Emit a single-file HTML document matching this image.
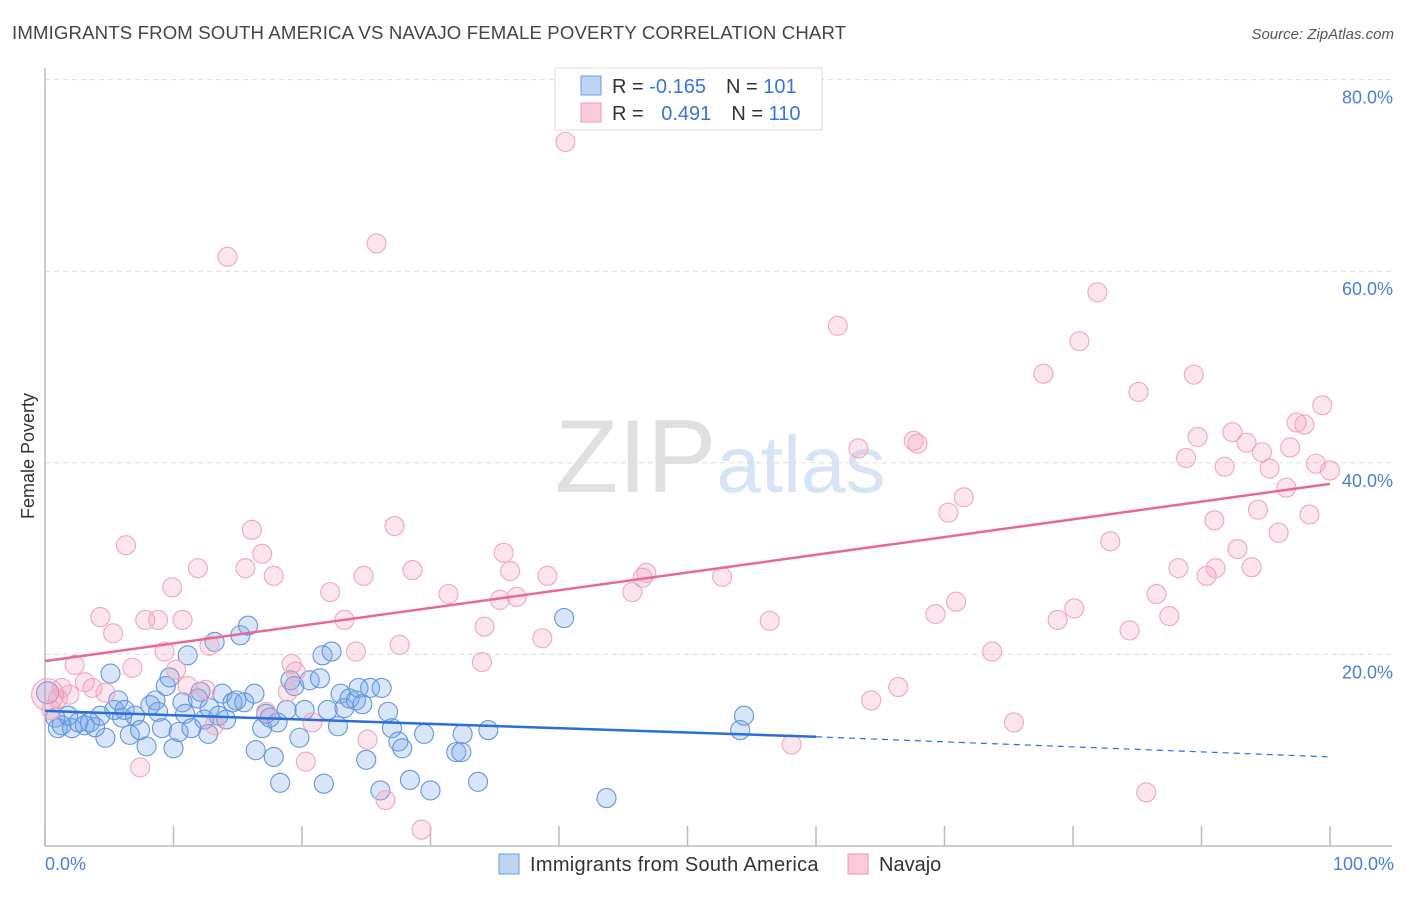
<!DOCTYPE html>
<html><head><meta charset="utf-8"><style>
body{margin:0;background:#fff;font-family:"Liberation Sans",sans-serif}
svg text{font-family:"Liberation Sans",sans-serif}
</style></head><body>
<svg id="chart" width="1406" height="892" xmlns="http://www.w3.org/2000/svg">
<text x="12" y="39" font-size="18.6" fill="#444" letter-spacing="0.15">IMMIGRANTS FROM SOUTH AMERICA VS NAVAJO FEMALE POVERTY CORRELATION CHART</text>
<text x="1394" y="39" font-size="15" fill="#555" text-anchor="end" font-style="italic">Source: ZipAtlas.com</text>
<text x="720" y="492" font-size="104" text-anchor="middle" fill="#ddd" font-family="Liberation Serif"><tspan fill="#e0e0e0">ZIP</tspan><tspan fill="#d6e4f5" font-family="Liberation Sans" font-size="80">atlas</tspan></text>
<g id="grid"></g>
<line x1="45" y1="68" x2="45" y2="846" stroke="#bbb" stroke-width="1.5"/>
<line x1="45" y1="846" x2="1392" y2="846" stroke="#bbb" stroke-width="1.5"/>
<text transform="translate(34,456) rotate(-90)" font-size="18" fill="#333" text-anchor="middle">Female Poverty</text>
<text x="45" y="870" font-size="18" fill="#4a7fd4">0.0%</text>
<text x="1394" y="870" font-size="18" fill="#4a7fd4" text-anchor="end">100.0%</text>
<g id="pts"></g>
<g id="trends"></g>
<g>
<rect x="555" y="68" width="267" height="62" fill="#fff" stroke="#ddd"/>
<rect x="581" y="76" width="20" height="19" fill="#bcd4f5" stroke="#6a9be0"/>
<rect x="581" y="103" width="20" height="19" fill="#fbcad8" stroke="#ee9ab4"/>
<text x="612" y="93" font-size="20" fill="#333">R = <tspan fill="#3a75d4">-0.165</tspan><tspan dx="20">N = </tspan><tspan fill="#3a75d4">101</tspan></text>
<text x="612" y="120" font-size="20" fill="#333">R = <tspan fill="#3a75d4" dx="12">0.491</tspan><tspan dx="20">N = </tspan><tspan fill="#3a75d4">110</tspan></text>
</g>
<g>
<rect x="499" y="854" width="20" height="20" fill="#bcd4f5" stroke="#6a9be0"/>
<text x="530" y="871" font-size="20" fill="#333" letter-spacing="0.3">Immigrants from South America</text>
<rect x="848" y="854" width="20" height="20" fill="#fbcad8" stroke="#ee9ab4"/>
<text x="879" y="871" font-size="20" fill="#333">Navajo</text>
</g>
</svg>
<script>
const yTicks=[20,40,60,80];
const yTickLabels=["20.0%","40.0%","60.0%","80.0%"];
const xTicks=[0,10,20,30,40,50,60,70,80,90,100];
const blueX=[0.2,0.8,1.0,1.3,1.8,2.1,2.6,3.1,3.5,3.9,4.3,4.7,5.1,5.4,5.7,6.0,6.2,6.6,7.0,7.4,7.9,8.2,8.6,8.8,9.1,9.4,9.7,10.0,10.4,10.7,10.9,11.1,11.4,11.9,12.1,12.4,12.7,12.8,13.2,13.5,13.8,14.1,14.6,14.9,15.2,15.5,15.8,16.3,16.4,16.9,17.2,17.5,17.8,18.1,18.3,18.8,19.1,19.4,19.8,20.2,20.6,21.4,21.6,21.7,22.0,22.3,22.8,23.0,23.3,23.7,24.2,24.4,24.7,25.0,25.3,26.1,26.2,26.7,27.0,27.5,27.8,28.4,29.5,30.0,32.0,32.5,32.4,33.7,34.5,40.4,43.7,54.1,54.4];
const blueY=[16.0,13.4,12.3,12.6,13.6,12.3,12.9,12.6,12.9,12.4,13.6,11.3,18.0,14.2,15.2,13.4,14.2,11.6,13.6,12.1,10.4,14.7,15.2,14.0,12.3,16.7,17.6,10.2,11.9,15.0,13.8,19.9,12.3,15.4,16.1,13.2,11.7,14.4,21.3,13.6,15.9,13.2,15.0,15.2,22.0,15.0,23.0,15.9,10.0,12.3,13.8,13.4,9.3,12.9,6.6,14.2,17.3,16.7,11.3,14.2,17.3,17.5,19.9,6.5,14.2,20.3,12.5,15.9,14.4,15.4,15.2,16.5,14.8,9.0,16.5,5.8,16.5,14.0,12.3,10.9,10.2,6.9,11.7,5.8,9.8,11.7,9.8,6.7,12.1,23.8,5.0,12.1,13.6];
const pinkX=[0.2,0.5,1.0,1.3,1.9,2.3,3.1,3.7,4.3,4.7,5.3,6.3,6.8,7.4,7.8,8.8,9.3,9.9,10.2,10.7,11.1,11.9,12.5,12.8,13.2,14.2,15.6,16.1,16.9,17.2,17.8,18.9,19.2,19.5,20.3,20.8,22.2,23.3,24.2,24.8,25.1,25.8,26.5,27.2,27.6,28.6,29.3,31.4,34.2,34.0,35.4,35.7,36.2,36.7,38.7,39.1,40.5,45.7,46.5,46.8,52.7,56.4,58.1,61.7,63.3,64.3,66.4,67.6,67.9,69.3,70.3,70.9,71.5,73.7,75.4,77.7,78.8,80.1,80.5,81.9,82.9,84.4,85.1,85.7,86.5,87.5,88.2,88.8,89.4,89.7,90.4,91.0,91.1,91.8,92.4,92.8,93.5,93.9,94.4,94.7,95.3,96.0,96.6,96.9,97.4,98.0,98.4,98.9,99.4,100];
const pinkY=[15.8,14.2,15.4,16.5,15.8,18.9,17.1,16.5,23.9,16.0,22.2,31.4,18.6,8.2,23.6,23.6,20.3,27.0,18.4,23.6,16.7,29.0,16.3,20.9,12.6,61.5,29.0,33.0,30.5,14.0,28.2,16.1,19.0,18.2,8.8,12.9,26.5,23.6,20.3,28.2,11.1,62.9,4.8,33.4,21.0,28.8,1.7,26.3,22.9,19.2,25.7,30.6,28.7,26.0,21.7,28.2,73.5,26.5,28.0,28.5,28.1,23.5,10.6,54.3,41.5,15.2,16.6,42.3,42.0,24.2,34.8,25.5,36.4,20.3,12.9,49.3,23.6,24.8,52.7,57.8,31.8,22.5,47.4,5.6,26.3,24.0,29.0,40.5,49.2,42.7,28.2,34.0,29.0,39.6,43.2,31.0,42.1,29.1,35.1,41.1,39.4,32.7,37.4,41.6,44.2,44.0,34.6,39.9,46.0,39.2];
const blueTrend=[14.1,11.4,9.3]; // at x=0, 60, 100
const pinkTrend=[19.3,37.8]; // at x=0, 100
const NS="http://www.w3.org/2000/svg";
const xS=v=>45+v*12.85;
const yS=v=>846-v*9.58;
function mk(tag,attrs,parent){const e=document.createElementNS(NS,tag);for(const k in attrs)e.setAttribute(k,attrs[k]);parent.appendChild(e);return e;}
const grid=document.getElementById('grid');
yTicks.forEach((t,i)=>{
  const l=mk('line',{x1:45,x2:1392,y1:yS(t),y2:yS(t),stroke:'#ddd','stroke-dasharray':'5,4'},grid);
  
  
  const tx=mk('text',{x:1393,y:yS(t)+24,'font-size':18,fill:'#4a7fd4','text-anchor':'end'},grid);
  tx.textContent=yTickLabels[i];
  
  
});
xTicks.forEach(t=>{
  const l=mk('line',{x1:xS(t),x2:xS(t),y1:826,y2:846,stroke:'#bbb','stroke-width':1.5},grid);
  
  
});
const pts=document.getElementById('pts');
blueX.forEach((x,i)=>{
  const c=mk('circle',{cx:xS(x),cy:yS(blueY[i]),r:i===0?11:9.5,fill:'rgba(120,165,235,0.28)',stroke:'#6396de','stroke-width':1.1},pts);
  
  
});
pinkX.forEach((x,i)=>{
  const c=mk('circle',{cx:xS(x),cy:yS(pinkY[i]),r:i===0?16:9.5,fill:'rgba(245,150,180,0.25)',stroke:'#f2a6bf','stroke-width':1.1},pts);
  
  
});
const tr=document.getElementById('trends');
let l1=mk('line',{x1:xS(0),y1:yS(blueTrend[0]),x2:xS(60),y2:yS(blueTrend[1]),stroke:'#2a6fd6','stroke-width':2.5},tr);


let l2=mk('line',{x1:xS(60),y1:yS(blueTrend[1]),x2:xS(100),y2:yS(blueTrend[2]),stroke:'#2a6fd6','stroke-width':1.2,'stroke-dasharray':'6,5'},tr);


let l3=mk('line',{x1:xS(0),y1:yS(pinkTrend[0]),x2:xS(100),y2:yS(pinkTrend[1]),stroke:'#e8689a','stroke-width':2.5},tr);


</script>
</body></html>
